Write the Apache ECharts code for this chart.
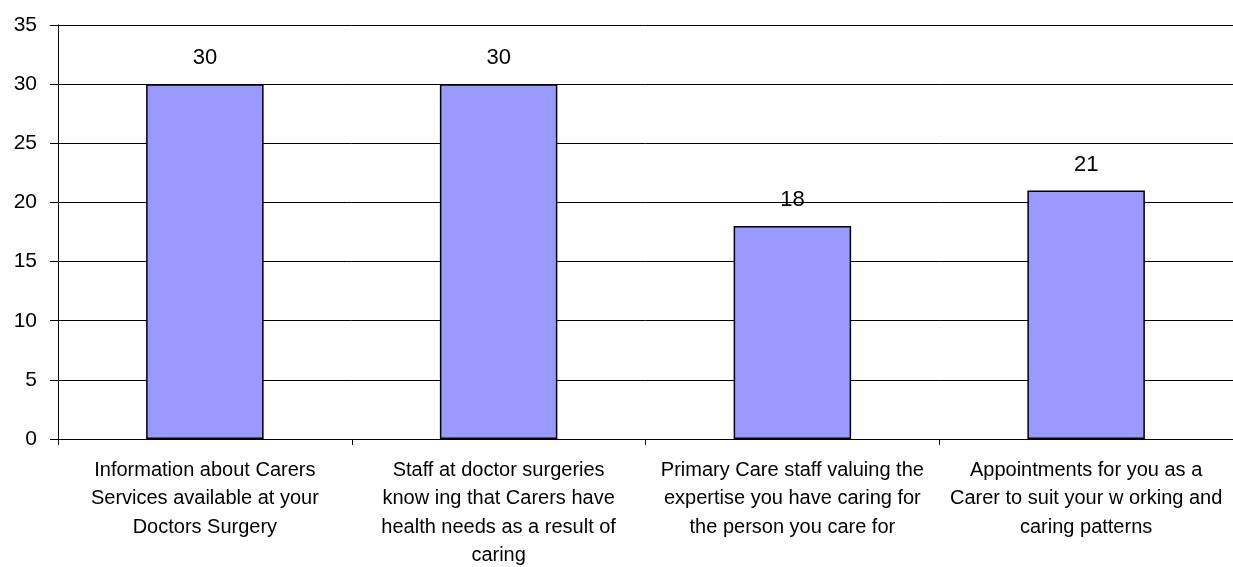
<!DOCTYPE html>
<html>
<head>
<meta charset="utf-8">
<script src="https://cdn.jsdelivr.net/npm/echarts@6/dist/echarts.min.js"></script>
<style>
  html, body { margin: 0; padding: 0; background: #fff; }
  #chart { width: 1233px; height: 567px; }
</style>
</head>
<body>
<div id="chart"></div>
<script>
// chart data
const categories = [
  'Information about Carers\nServices available at your\nDoctors Surgery',
  'Staff at doctor surgeries\nknow ing that Carers have\nhealth needs as a result of\ncaring',
  'Primary Care staff valuing the\nexpertise you have caring for\nthe person you care for',
  'Appointments for you as a\nCarer to suit your w orking and\ncaring patterns'
]
const values = [30, 30, 18, 21]
const yMin = 0, yMax = 35, yStep = 5

const font = '"Liberation Sans", Arial, sans-serif'
const chart = echarts.init(document.getElementById('chart'))

const option = {
  animation: false,
  grid: {
    left: 58,
    right: 0,
    top: 25,
    bottom: 128,
    containLabel: false,
    outerBoundsMode: 'none'
  },
  xAxis: {
    type: 'category',
    data: categories,
    axisLine: { lineStyle: { color: '#000', width: 1 } },
    axisTick: { show: true, length: 6, lineStyle: { color: '#000' } },
    axisLabel: {
      color: '#000',
      fontFamily: font,
      fontSize: 20,
      lineHeight: 28.5,
      margin: 17,
      interval: 0,
      align: 'center'
    }
  },
  yAxis: {
    type: 'value',
    min: yMin,
    max: yMax,
    interval: yStep,
    axisLine: { show: true, lineStyle: { color: '#000', width: 1 } },
    axisTick: { show: true, length: 8, lineStyle: { color: '#000' } },
    splitLine: { lineStyle: { color: '#000', width: 1 } },
    axisLabel: {
      color: '#000',
      fontFamily: font,
      fontSize: 21,
      margin: 21
    }
  },
  series: [{
    type: 'bar',
    data: values,
    barWidth: '40%',
    itemStyle: {
      color: '#9999FF',
      borderColor: '#000',
      borderWidth: 1.5
    },
    label: {
      show: true,
      position: 'top',
      distance: 15,
      color: '#000',
      fontFamily: font,
      fontSize: 22
    }
  }]
}

chart.setOption(option)
</script>
</body>
</html>
